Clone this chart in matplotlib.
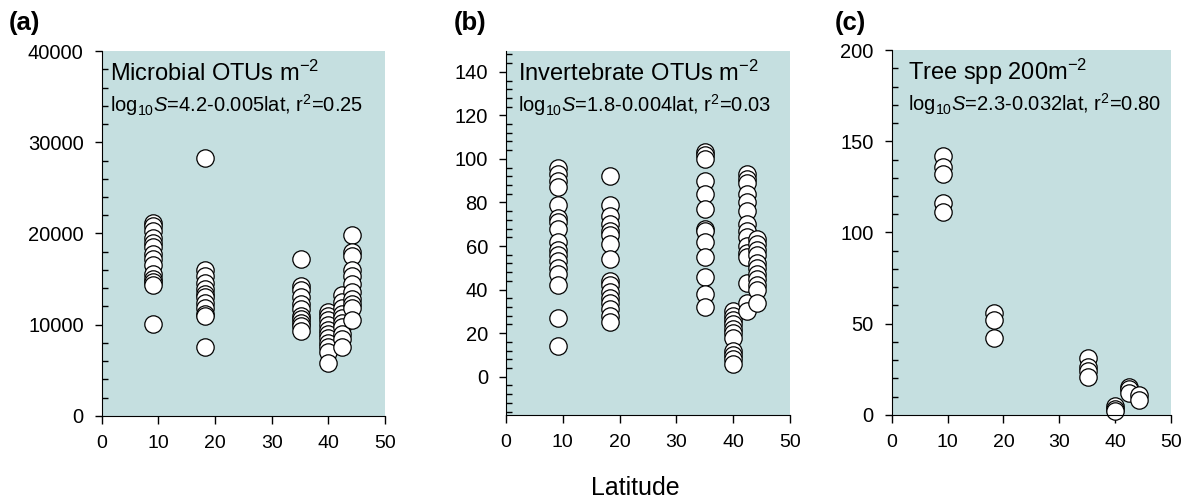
import matplotlib
matplotlib.use('Agg')
import matplotlib.pyplot as plt
from matplotlib.ticker import MultipleLocator

plt.rcParams['font.family'] = ['Liberation Sans', 'DejaVu Sans']
plt.rcParams['mathtext.fontset'] = 'custom'
plt.rcParams['mathtext.rm'] = 'Liberation Sans'
plt.rcParams['mathtext.it'] = 'Liberation Sans:italic'

# latitudes of the six sites
lats = [9.1, 18.3, 35.1, 40.0, 42.5, 44.2]

# (a) microbial OTUs per m2, one list per site
microbial = [
    [21200, 20800, 20300, 19500, 19000, 18500, 17800, 17200, 16500, 15500, 15000, 14700, 14400, 10100],
    [28300, 16000, 15300, 14600, 13900, 13400, 13000, 12400, 11800, 11200, 10900, 7500],
    [17200, 14200, 13800, 13000, 12300, 11700, 11000, 10600, 10200, 9800, 9300],
    [11400, 11000, 10500, 10000, 9400, 9000, 8500, 8000, 7500, 7000, 5800],
    [13300, 12500, 11800, 11200, 10700, 10200, 9700, 9000, 8400, 7500],
    [19800, 18000, 17500, 16000, 15300, 14500, 13600, 12800, 12300, 11800, 10500],
]

# (b) invertebrate OTUs per m2
invertebrate = [
    [96, 93, 90, 87, 79, 73, 71, 68, 62, 58, 56, 53, 50, 47, 42, 27, 14],
    [92, 79, 74, 70, 67, 65, 61, 54, 44, 42, 39, 36, 34, 31, 28, 25],
    [103, 102, 100, 90, 84, 77, 68, 67, 62, 55, 46, 38, 32],
    [30, 28, 26, 24, 22, 20, 18, 12, 10, 8, 6],
    [93, 91, 89, 84, 80, 76, 70, 67, 64, 60, 57, 55, 43, 34, 30],
    [63, 61, 58, 56, 52, 50, 47, 45, 42, 40, 34],
]

# (c) tree species per 200 m2
trees = [
    [142, 136, 132, 116, 111],
    [56, 52, 42],
    [31, 26, 24, 21],
    [5, 3, 2],
    [15, 14, 12],
    [11, 8],
]

titles = [r'Microbial OTUs m$^{-2}$', r'Invertebrate OTUs m$^{-2}$', r'Tree spp 200m$^{-2}$']
formulas = [r'log$_{10}$$\it{S}$=4.2-0.005lat, r$^{2}$=0.25',
            r'log$_{10}$$\it{S}$=1.8-0.004lat, r$^{2}$=0.03',
            r'log$_{10}$$\it{S}$=2.3-0.032lat, r$^{2}$=0.80']
letters = ['(a)', '(b)', '(c)']

fig = plt.figure(figsize=(11.87, 5.01), dpi=100)

positions = [[0.0857, 0.170, 0.2386, 0.728],
             [0.4263, 0.172, 0.2393, 0.726],
             [0.7512, 0.172, 0.2353, 0.728]]
ylims = [(0, 40000), (-17.5, 149.5), (0, 200)]
majors = [10000, 20, 50]
minors = [2000, 4, 10]
text_x = [0.03, 0.042, 0.058]
letter_x = [0.007, 0.382, 0.703]

bg = '#c5dfe0'

for i, data in enumerate([microbial, invertebrate, trees]):
    ax = fig.add_axes(positions[i])
    ax.set_facecolor(bg)
    for lat, vals in zip(lats, data):
        ax.plot([lat] * len(vals), vals, 'o', ms=12.5, mfc='white', mec='black', mew=0.9, clip_on=False)
    ax.set_xlim(0, 50)
    ax.set_ylim(*ylims[i])
    ax.xaxis.set_major_locator(MultipleLocator(10))
    ax.yaxis.set_major_locator(MultipleLocator(majors[i]))
    ax.yaxis.set_minor_locator(MultipleLocator(minors[i]))
    ax.spines['top'].set_visible(False)
    ax.spines['right'].set_visible(False)
    ax.tick_params(axis='x', which='major', direction='out', length=6, width=1, labelsize=14, pad=8)
    ax.tick_params(axis='y', which='major', direction='out', length=5, width=1, labelsize=14.5, pad=8)
    ax.tick_params(axis='y', which='minor', direction='in', length=4, width=1)
    ax.text(text_x[i], 0.94, titles[i], transform=ax.transAxes, fontsize=17, va='center')
    ax.text(text_x[i], 0.853, formulas[i], transform=ax.transAxes, fontsize=14.5, va='center')
    fig.text(letter_x[i], 0.955, letters[i], fontsize=18.5, fontweight='bold', va='center')

fig.text(0.535, 0.026, 'Latitude', fontsize=18, ha='center', va='center')

plt.savefig('out.png', dpi=100)
